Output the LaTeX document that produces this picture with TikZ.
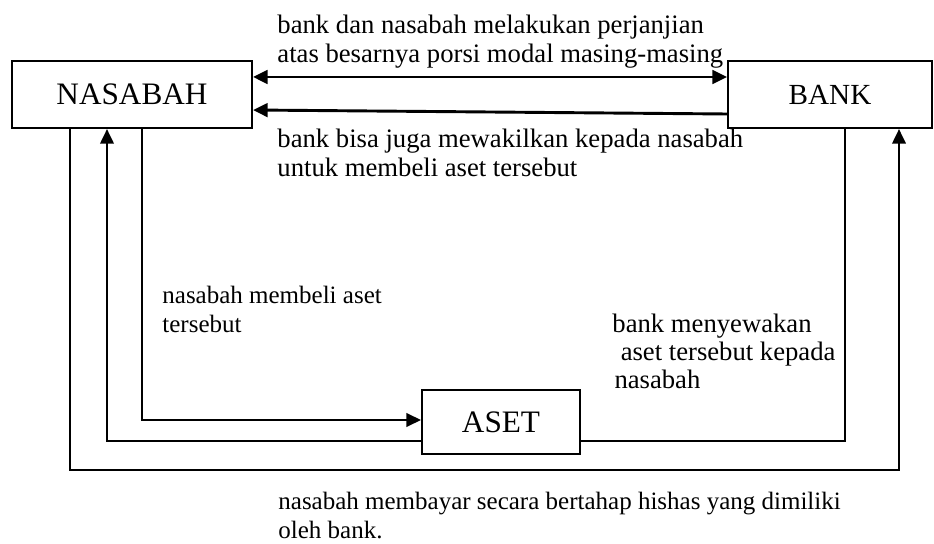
\documentclass[tikz,border=0pt]{standalone}
\usepackage{fontspec}
\setmainfont{Liberation Serif}
\usetikzlibrary{arrows.meta}

\begin{document}
\begin{tikzpicture}[x=0.48pt, y=-0.48pt,
  >={Triangle[length=7pt,width=6.5pt]},
  box/.style={draw, line width=1pt, inner sep=0pt, font=\fontsize{15}{17}\selectfont},
  note/.style={anchor=base west, align=left, inner sep=0pt, font=\fontsize{12}{13.5}\selectfont},
  bignote/.style={note, font=\fontsize{12.8}{14}\selectfont},
  flow/.style={line width=1pt}]

  \useasboundingbox (0,0) rectangle (934,544);

  % the three parties
  \node[box, minimum width=115.2pt, minimum height=32.2pt] (nasabah) at (132,94.5) {NASABAH};
  \node[box, minimum width=97.9pt, minimum height=32.2pt, font=\fontsize{14}{17}\selectfont] (bank) at (830,94.5) {BANK};
  \node[box, minimum width=75.8pt, minimum height=30.7pt] (aset) at (501,422) {ASET};

  % where the connectors turn
  \coordinate (top1) at (0,77);
  \coordinate (top2) at (0,110);
  \coordinate (top3) at (0,114);
  \coordinate (buyx) at (142,420);
  \coordinate (backx) at (107,441);
  \coordinate (rentx) at (845,441);
  \coordinate (payl) at (70,470);
  \coordinate (payr) at (899,470);

  % agreement between nasabah and bank
  \draw[<->, line width=1.4pt] (nasabah.east |- top1) -- (bank.west |- top1);
  \draw[->, line width=1.4pt] (bank.west |- top3) -- (nasabah.east |- top2);

  % flows through the asset
  \draw[->, flow] (nasabah.south -| buyx) |- (aset.west |- buyx);
  \draw[->, flow] (aset.west |- backx) -| (nasabah.south -| backx);
  \draw[flow] (bank.south -| rentx) |- (aset.east |- rentx);
  \draw[->, flow] (nasabah.south -| payl) |- (payr) -- (bank.south -| payr);

  % labels (base anchor sits on the last line)
  \node[bignote] (deal) at (277,63) {bank dan nasabah melakukan perjanjian\\atas besarnya porsi modal masing-masing};
  \node[bignote] (proxy) at (277,177) {bank bisa juga mewakilkan kepada nasabah\\untuk membeli aset tersebut};
  \node[note] (buy) at (162,332) {nasabah membeli aset\\tersebut};
  \node[bignote, font=\fontsize{12.8}{13.3}\selectfont] (rent) at (612,388) {bank menyewakan\\\hspace*{4pt}aset tersebut kepada\\\hspace*{1pt}nasabah};
  \node[note] (pay) at (278,538) {nasabah membayar secara bertahap hishas yang dimiliki\\oleh bank.};

\end{tikzpicture}
\end{document}
